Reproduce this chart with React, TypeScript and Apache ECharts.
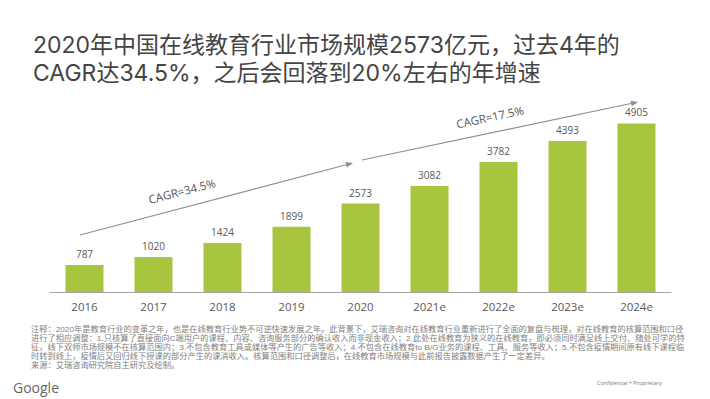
import React, { useEffect, useRef } from "react";
import * as echarts from "echarts";

const categories = ["2016", "2017", "2018", "2019", "2020", "2021e", "2022e", "2023e", "2024e"];
const marketSize = [787, 1020, 1424, 1899, 2573, 3082, 3782, 4393, 4905];
const titleLines = [
  "2020年中国在线教育行业市场规模2573亿元，过去4年的",
  "CAGR达34.5%，之后会回落到20%左右的年增速",
];
const cagrLabels = ["CAGR=34.5%", "CAGR=17.5%"];
const noteLines = [
  "注释：2020年是教育行业的变革之年，也是在线教育行业势不可逆快速发展之年。此背景下，艾瑞咨询对在线教育行业重新进行了全面的复盘与梳理，对在线教育的核算范围和口径",
  "进行了相应调整：1.只核算了直接面向C端用户的课程、内容、咨询服务部分的确认收入而非现金收入；2.此处在线教育为狭义的在线教育，即必须同时满足线上交付、随处可学的特",
  "征，线下双师市场规模不在核算范围内；3.不包含教育工具或媒体等产生的广告等收入；4.不包含在线教育to B/G业务的课程、工具、服务等收入；5.不包含疫情期间原有线下课程临",
  "时转到线上，疫情后又回归线下授课的部分产生的课消收入。核算范围和口径调整后，在线教育市场规模与此前报告披露数据产生了一定差异。",
  "来源：艾瑞咨询研究院自主研究及绘制。",
];

const GREEN = "#a7c53f";
const ARROW = "#8f8f8f";
const LATIN = "'Open Sans', 'Noto Sans CJK SC', sans-serif";
const CJK = "Inter, 'Noto Sans CJK SC', sans-serif";
const NOTE = "'Liberation Sans', 'Noto Sans CJK SC', sans-serif";

function arrow(x1: number, y1: number, x2: number, y2: number): any[] {
  const dx = x2 - x1;
  const dy = y2 - y1;
  const len = Math.sqrt(dx * dx + dy * dy);
  const ux = dx / len;
  const uy = dy / len;
  const hl = 7;
  const hw = 2.8;
  const bx = x2 - ux * hl;
  const by = y2 - uy * hl;
  const nx = -uy;
  const ny = ux;
  return [
    {
      type: "line",
      shape: { x1, y1, x2: bx + ux * 1, y2: by + uy * 1 },
      style: { stroke: ARROW, lineWidth: 1.2 },
      silent: true,
    },
    {
      type: "polygon",
      shape: {
        points: [
          [x2, y2],
          [bx + nx * hw, by + ny * hw],
          [bx - nx * hw, by - ny * hw],
        ],
      },
      style: { fill: ARROW },
      silent: true,
    },
  ];
}

export default function App() {
  const ref = useRef<HTMLDivElement>(null);
  useEffect(() => {
    document.body.style.margin = "0";
    if (!ref.current) return;
    const chart = echarts.init(ref.current, null, { renderer: "svg" });
    const graphics: any[] = [];
    titleLines.forEach((t, i) => {
      graphics.push({
        type: "text",
        left: 33,
        top: 33 + i * 28,
        style: { text: t, fill: "#444444", font: `23px ${CJK}` },
        silent: true,
      });
    });
    graphics.push(...arrow(80, 235, 353, 163));
    graphics.push(...arrow(362, 160, 638, 102));
    graphics.push({
      type: "text",
      x: 182,
      y: 191,
      rotation: (14.5 * Math.PI) / 180,
      style: {
        text: cagrLabels[0],
        fill: "#555555",
        font: `11.5px ${LATIN}`,
        align: "center",
        verticalAlign: "middle",
      },
      silent: true,
    });
    graphics.push({
      type: "text",
      x: 490,
      y: 117,
      rotation: (12 * Math.PI) / 180,
      style: {
        text: cagrLabels[1],
        fill: "#555555",
        font: `11.5px ${LATIN}`,
        align: "center",
        verticalAlign: "middle",
      },
      silent: true,
    });
    noteLines.forEach((t, i) => {
      graphics.push({
        type: "text",
        x: 31,
        y: 329.5 + i * 8.9,
        scaleX: 1.07,
        style: {
          text: t,
          fill: "#808080",
          font: `7.7px ${NOTE}`,
          verticalAlign: "middle",
          lineHeight: 8,
        },
        silent: true,
      });
    });
    graphics.push({
      type: "text",
      x: 13,
      y: 387,
      style: {
        text: "Google",
        fill: "#666666",
        font: `14px ${LATIN}`,
        verticalAlign: "middle",
      },
      silent: true,
    });
    graphics.push({
      type: "text",
      x: 597,
      y: 383,
      style: {
        text: "Confidential + Proprietary",
        fill: "#777777",
        font: `5.4px ${LATIN}`,
        verticalAlign: "middle",
      },
      silent: true,
    });

    chart.setOption({
      animation: false,
      backgroundColor: "#ffffff",
      grid: { left: 50, right: 39, top: 103, bottom: 107, containLabel: false },
      xAxis: {
        type: "category",
        data: categories,
        axisLine: { lineStyle: { color: "#a6a6a6", width: 1 } },
        axisTick: { show: false },
        axisLabel: {
          color: "#595959",
          fontSize: 11.5,
          fontFamily: LATIN,
          margin: 9,
        },
      },
      yAxis: {
        type: "value",
        min: 0,
        max: 5500,
        show: false,
        splitLine: { show: false },
      },
      series: [
        {
          type: "bar",
          data: marketSize,
          barWidth: 38,
          itemStyle: { color: GREEN },
          label: {
            show: true,
            position: "top",
            distance: 6,
            color: "#595959",
            fontSize: 10,
            fontFamily: LATIN,
          },
        },
      ],
      graphic: graphics,
    });
    return () => chart.dispose();
  }, []);
  return (
    <div
      ref={ref}
      style={{ position: "fixed", left: 0, top: 0, width: 710, height: 399 }}
    />
  );
}
